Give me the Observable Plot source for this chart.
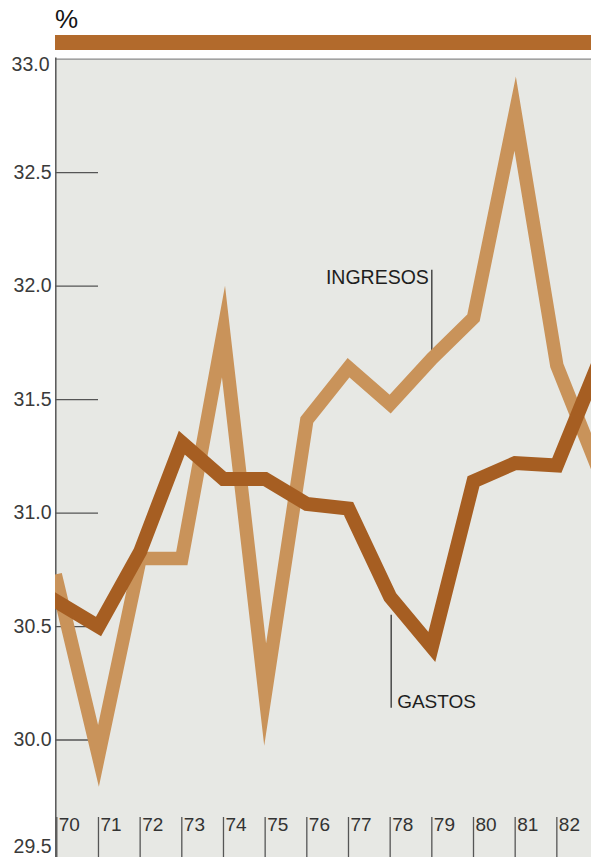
<!DOCTYPE html>
<html>
<head>
<meta charset="utf-8">
<script src="https://cdn.jsdelivr.net/npm/d3@7"></script>
<script src="https://cdn.jsdelivr.net/npm/@observablehq/plot@0.6"></script>
<style>
  body { margin: 0; background: #fff; font-family: "Liberation Sans", Arial, sans-serif; }
  #wrap { position: relative; width: 591px; height: 857px; overflow: hidden; }
  #chart { position: absolute; left: 0; top: 0; }
  #unit { position: absolute; left: 55px; top: 7px; font-size: 26px; line-height: 25px; color: #141414; }
  #band { position: absolute; left: 55px; top: 35px; width: 536px; height: 15px; background: #b26a2c; }
</style>
</head>
<body>
<div id="wrap">
  <div id="chart"></div>
  <div id="unit">%</div>
  <div id="band"></div>
</div>
<script>
// Años (19xx) y porcentajes de ingresos y gastos
const years    = [70, 71, 72, 73, 74, 75, 76, 77, 78, 79, 80, 81, 82, 83];
const ingresos = [30.70, 29.93, 30.80, 30.80, 31.80, 30.20, 31.41, 31.64, 31.48, 31.68, 31.86, 32.76, 31.65, 31.19];
const gastos   = [30.61, 30.50, 30.83, 31.31, 31.15, 31.15, 31.04, 31.02, 30.63, 30.41, 31.14, 31.22, 31.21, 31.66];

const yTicks    = [29.5, 30.0, 30.5, 31.0, 31.5, 32.0, 32.5, 33.0];
const yearTicks = [70, 71, 72, 73, 74, 75, 76, 77, 78, 79, 80, 81, 82];

const rows = years.map((year, i) => ({year, ingresos: ingresos[i], gastos: gastos[i]}));
const at = (series, yr) => series[years.indexOf(yr)];

const W = 591, H = 857, mTop = 58.6, mBottom = 4, mLeft = 55;
const innerH = H - mTop - mBottom;
const step = 41.67, x0 = 56.3;

const colIngresos = "#c9935a";
const colGastos = "#a65e22";
const inkAxis = "#555";
const lineStyle = {strokeLinejoin: "miter", strokeMiterlimit: 14, strokeLinecap: "square", clip: true};
const tickFont = {fontSize: 19.5, fill: "#3a3a3a"};

const chart = Plot.plot({
  width: W,
  height: H,
  marginTop: mTop,
  marginBottom: mBottom,
  marginLeft: mLeft,
  marginRight: 0,
  style: {background: "transparent", fontFamily: "'Liberation Sans', Arial, sans-serif"},
  x: {domain: [70, 83], range: [x0, x0 + step * 13], axis: null},
  y: {domain: [29.5, 33.0], axis: null},
  marks: [
    Plot.frame({fill: "#e7e8e4", stroke: null, insetBottom: -4}),
    // borde superior y eje vertical
    Plot.ruleY([33.0], {stroke: "#8a8a8a", strokeWidth: 1.2}),
    Plot.ruleX([70], {stroke: inkAxis, strokeWidth: 1.5, dx: -1, insetBottom: -4, insetTop: -1}),
    // marcas cortas del eje Y
    Plot.tickY(yTicks.filter(d => d > 29.5 && d < 33), {y: d => d, stroke: inkAxis, strokeWidth: 1.3, insetRight: W - mLeft - 43}),
    Plot.text(yTicks.filter(d => d > 29.5 && d < 33), {y: d => d, text: d => d.toFixed(1), frameAnchor: "left", textAnchor: "end", dx: -4, ...tickFont}),
    Plot.text([33.0], {y: d => d, text: d => d.toFixed(1), frameAnchor: "left", textAnchor: "end", dx: -6, dy: 6, ...tickFont}),
    Plot.text([29.5], {y: d => d, text: d => d.toFixed(1), frameAnchor: "left", textAnchor: "end", dx: -4, dy: -7, ...tickFont}),
    // marcas de años en la base
    Plot.tickX(yearTicks, {x: d => d, stroke: inkAxis, strokeWidth: 1.3, insetTop: innerH - 36, insetBottom: -4}),
    Plot.text(yearTicks, {x: d => d, text: d => String(d), frameAnchor: "bottom", textAnchor: "start", lineAnchor: "bottom", dx: 2, dy: -23, fontSize: 19, fill: "#333"}),
    // guías de las etiquetas
    Plot.ruleX([79], {y1: 32.07, y2: at(ingresos, 79), stroke: "#222", strokeWidth: 1.2}),
    Plot.ruleX([78], {y1: 30.14, y2: 30.55, stroke: "#222", strokeWidth: 1.2, dx: 1}),
    // series
    Plot.line(rows, {x: "year", y: "ingresos", stroke: colIngresos, strokeWidth: 13.5, ...lineStyle}),
    Plot.line(rows, {x: "year", y: "gastos", stroke: colGastos, strokeWidth: 14, ...lineStyle}),
    // etiquetas de las series
    Plot.text(["INGRESOS"], {x: 79, y: 32.036, text: d => d, textAnchor: "end", dx: -3, fontSize: 19.5, fill: "#1e1e1e"}),
    Plot.text(["GASTOS"], {x: 78, y: 30.168, text: d => d, textAnchor: "start", dx: 7, fontSize: 19, fill: "#1e1e1e"})
  ]
});
document.getElementById("chart").appendChild(chart);
</script>
</body>
</html>
